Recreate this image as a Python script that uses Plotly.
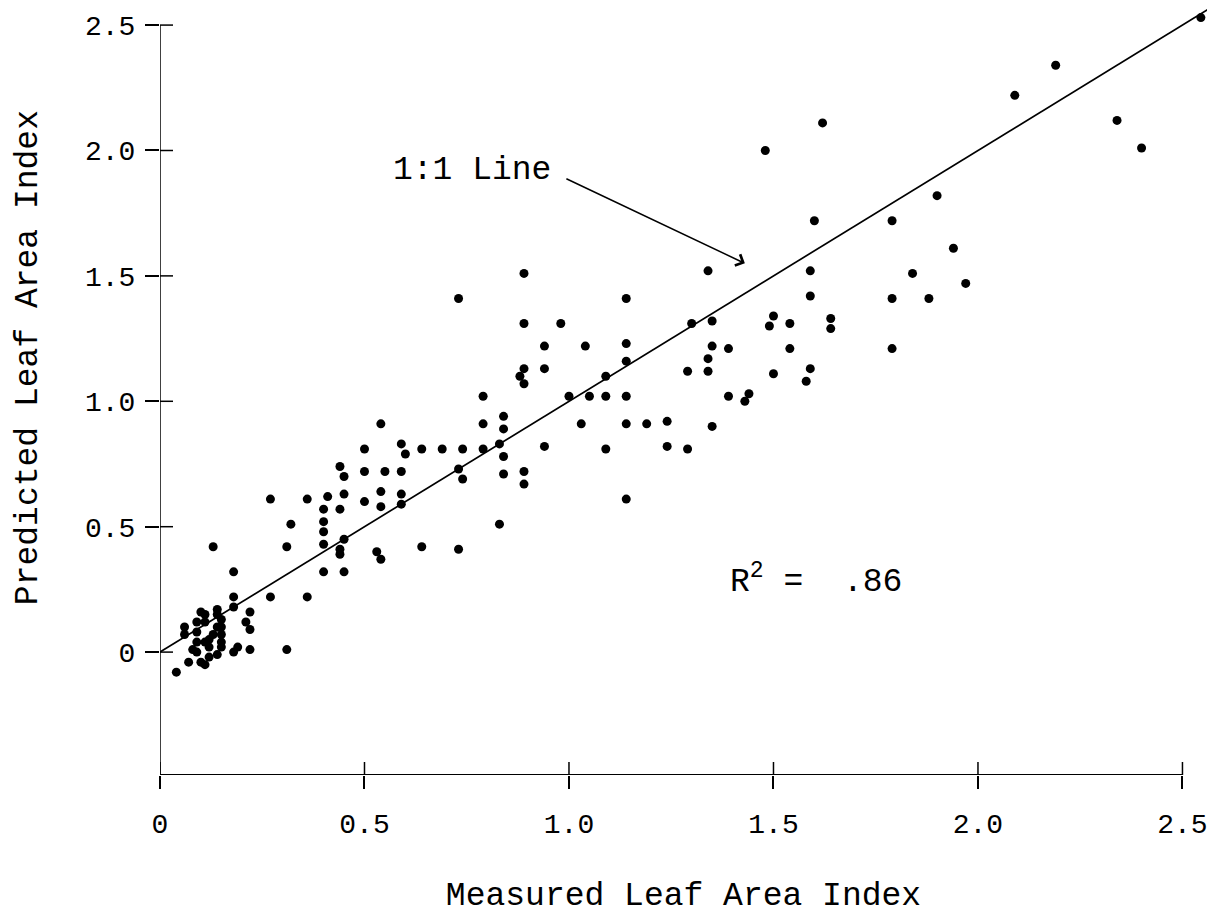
import plotly.graph_objects as go

# Measured (x) vs predicted (y) leaf area index
measured = [
    2.545, 2.19, 2.09, 2.34, 2.40, 1.62, 1.48, 1.90, 1.79, 1.60, 1.94, 1.84, 1.97, 1.88,
    1.59, 1.34, 0.89, 1.14, 0.73, 1.59, 1.79,
    1.30, 1.35, 1.50, 1.49, 1.54, 1.64, 1.64, 1.14, 1.14, 1.35, 1.34, 1.39, 1.54, 1.79,
    1.29, 1.34, 1.50, 1.59, 1.58, 1.14, 1.39, 1.44, 1.43, 1.14, 1.19, 1.24, 1.35, 1.24, 1.29,
    0.88, 0.89, 0.79, 1.00, 1.05, 1.09, 0.54, 0.79, 0.84, 0.84, 1.03,
    0.59, 0.60, 0.64, 0.69, 0.74, 0.79, 0.83, 0.84, 0.94, 1.09,
    0.55, 0.59, 0.73, 0.74, 0.84, 0.89, 0.89, 0.54, 0.59, 0.54, 0.59, 0.83, 1.14,
    0.53, 0.54, 0.64, 0.73,
    0.89, 0.89, 0.94, 0.94, 0.98, 1.04, 1.09, 0.50, 0.50,
    0.44, 0.45, 0.27, 0.36, 0.41, 0.45, 0.50, 0.40, 0.44, 0.32, 0.40, 0.40, 0.40, 0.45,
    0.44, 0.44, 0.13, 0.31, 0.18, 0.40, 0.45, 0.18, 0.18, 0.27, 0.36, 0.22, 0.21, 0.22,
    0.22, 0.31, 0.04,
    0.06, 0.06, 0.09, 0.09, 0.10, 0.11, 0.11, 0.14, 0.14, 0.15, 0.14, 0.15, 0.13, 0.15,
    0.12, 0.15, 0.11, 0.09, 0.08, 0.09, 0.12, 0.15, 0.14, 0.19, 0.18, 0.12, 0.07, 0.10, 0.11,
]
predicted = [
    2.53, 2.34, 2.22, 2.12, 2.01, 2.11, 2.00, 1.82, 1.72, 1.72, 1.61, 1.51, 1.47, 1.41,
    1.52, 1.52, 1.51, 1.41, 1.41, 1.42, 1.41,
    1.31, 1.32, 1.34, 1.30, 1.31, 1.33, 1.29, 1.23, 1.16, 1.22, 1.17, 1.21, 1.21, 1.21,
    1.12, 1.12, 1.11, 1.13, 1.08, 1.02, 1.02, 1.03, 1.00, 0.91, 0.91, 0.92, 0.90, 0.82, 0.81,
    1.10, 1.07, 1.02, 1.02, 1.02, 1.02, 0.91, 0.91, 0.94, 0.89, 0.91,
    0.83, 0.79, 0.81, 0.81, 0.81, 0.81, 0.83, 0.78, 0.82, 0.81,
    0.72, 0.72, 0.73, 0.69, 0.71, 0.72, 0.67, 0.64, 0.63, 0.58, 0.59, 0.51, 0.61,
    0.40, 0.37, 0.42, 0.41,
    1.31, 1.13, 1.13, 1.22, 1.31, 1.22, 1.10, 0.72, 0.81,
    0.74, 0.70, 0.61, 0.61, 0.62, 0.63, 0.60, 0.57, 0.57, 0.51, 0.52, 0.48, 0.43, 0.45,
    0.41, 0.39, 0.42, 0.42, 0.32, 0.32, 0.32, 0.22, 0.18, 0.22, 0.22, 0.16, 0.12, 0.09,
    0.01, 0.01, -0.08,
    0.10, 0.07, 0.12, 0.08, 0.16, 0.15, 0.12, 0.17, 0.15, 0.13, 0.10, 0.10, 0.07, 0.07,
    0.05, 0.04, 0.04, 0.04, 0.01, 0.00, 0.02, 0.02, -0.01, 0.02, 0.00, -0.02, -0.04, -0.04, -0.05,
]

one_to_one = [0, 2.6]
x_ticks = [0, 0.5, 1.0, 1.5, 2.0, 2.5]
x_tick_text = ["0", "0.5", "1.0", "1.5", "2.0", "2.5"]
y_ticks = [0, 0.5, 1.0, 1.5, 2.0, 2.5]
y_tick_text = ["0", "0.5", "1.0", "1.5", "2.0", "2.5"]

X_RANGE = [0, 2.56]
Y_RANGE = [-0.49, 2.6]
FONT = "Liberation Mono, Courier New, monospace"
BIG = 33

fig = go.Figure()
fig.add_trace(go.Scatter(x=one_to_one, y=one_to_one, mode="lines",
                         line=dict(color="black", width=1.7), hoverinfo="skip"))
fig.add_trace(go.Scatter(x=measured, y=predicted, mode="markers",
                         marker=dict(color="black", size=9)))

shapes = []
# axis lines
shapes.append(dict(type="line", xref="x", yref="y", x0=0, x1=0, y0=Y_RANGE[0], y1=y_ticks[-1],
                   line=dict(color="black", width=1.5)))
shapes.append(dict(type="line", xref="x", yref="y", x0=0, x1=x_ticks[-1], y0=Y_RANGE[0], y1=Y_RANGE[0],
                   line=dict(color="black", width=2)))
# inner halves of crossing ticks
for v in y_ticks:
    shapes.append(dict(type="line", xref="x", yref="y", xsizemode="pixel", xanchor=0,
                       x0=0, x1=13, y0=v, y1=v, line=dict(color="black", width=1.5)))
for v in x_ticks:
    shapes.append(dict(type="line", xref="x", yref="y", ysizemode="pixel", yanchor=Y_RANGE[0],
                       y0=0, y1=13, x0=v, x1=v, line=dict(color="black", width=1.5)))

fig.update_layout(
    width=1214, height=918,
    margin=dict(l=160, r=7, t=0, b=143),
    paper_bgcolor="white", plot_bgcolor="white",
    showlegend=False,
    font=dict(family=FONT, size=28, color="black"),
    shapes=shapes,
    xaxis=dict(range=X_RANGE, showgrid=False, zeroline=False, showline=False,
               tickmode="array", tickvals=x_ticks, ticktext=x_tick_text,
               ticks="outside", ticklen=13, tickwidth=1.5, tickcolor="black",
               ticklabelstandoff=10,
               title=dict(text="Measured Leaf Area Index", standoff=42,
                          font=dict(family=FONT, size=BIG)),
               automargin=False),
    yaxis=dict(range=Y_RANGE, showgrid=False, zeroline=False, showline=False,
               tickmode="array", tickvals=y_ticks, ticktext=y_tick_text,
               ticks="outside", ticklen=14, tickwidth=1.5, tickcolor="black",
               ticklabelstandoff=4,
               automargin=False),
    annotations=[
        dict(x=-0.126, y=0.538, xref="paper", yref="paper", text="Predicted Leaf Area Index",
             textangle=-90, showarrow=False, xanchor="center", yanchor="middle",
             font=dict(family=FONT, size=BIG)),
        dict(x=0.565, y=1.92, xref="x", yref="y", text="1:1 Line", showarrow=False,
             xanchor="left", yanchor="middle", font=dict(family=FONT, size=BIG)),
        dict(x=1.43, y=1.55, ax=0.99, ay=1.89, xref="x", yref="y", axref="x", ayref="y",
             text="", showarrow=True, arrowhead=4, arrowsize=1.6, arrowwidth=1.5,
             arrowcolor="black"),
        dict(x=1.39, y=0.29, xref="x", yref="y", text="R<sup>2</sup> =  .86", showarrow=False,
             xanchor="left", yanchor="middle", font=dict(family=FONT, size=BIG)),
    ],
)

fig.write_html("out.html")
